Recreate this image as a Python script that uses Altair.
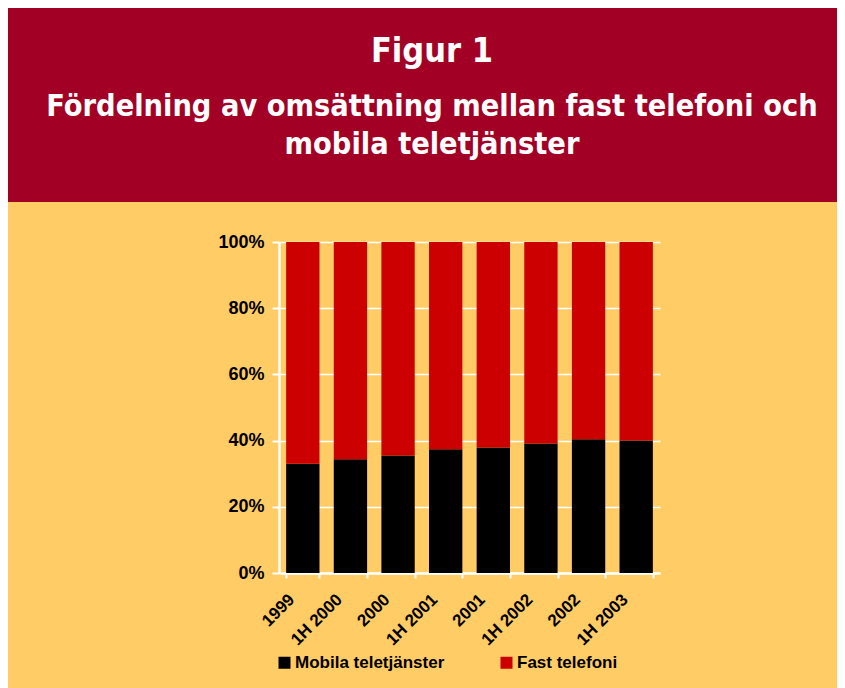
import altair as alt
import pandas as pd

periods = ["1999", "1H 2000", "2000", "1H 2001", "2001", "1H 2002", "2002", "1H 2003"]
mobile = [33.0, 34.4, 35.5, 37.4, 37.9, 39.1, 40.4, 40.0]
fixed = [round(100 - m, 1) for m in mobile]
series = ["Mobila teletjänster", "Fast telefoni"]
colors = ["#000000", "#CC0000"]
y_ticks = [0, 20, 40, 60, 80, 100]
heading = ["Figur 1"]
subheading = ["Fördelning av omsättning mellan fast telefoni och", "mobila teletjänster"]

rows = []
for i, p in enumerate(periods):
    rows.append({"period": p, "series": series[0], "value": mobile[i], "rank": 0})
    rows.append({"period": p, "series": series[1], "value": fixed[i], "rank": 1})
df = pd.DataFrame(rows)

W, H = 381, 331
PL, PT = 271, 234
PR = 829 - PL - W
PB = 680 - PT - H
LABEL_FONT = "Liberation Sans"
TITLE_FONT = "DejaVu Sans Condensed"
CX = 432 - 279  # centre of banner text in view coordinates

banner = alt.Chart(pd.DataFrame({"k": [0]})).mark_rect(color="#A30026").encode(
    x=alt.value(-PL), x2=alt.value(W + PR), y=alt.value(-PT), y2=alt.value(-40)
)

def text_line(txt, size, ybase):
    return alt.Chart(pd.DataFrame({"t": [txt]})).mark_text(
        font=TITLE_FONT, fontSize=size, fontWeight="bold", color="#FFFFFF",
        align="center", baseline="alphabetic",
    ).encode(text="t:N", x=alt.value(CX), y=alt.value(ybase))

t1 = text_line(heading[0], 34, 62 - 242)
t2 = text_line(subheading[0], 30.4, 116 - 242)
t3 = text_line(subheading[1], 30.4, 154 - 242)

bars = alt.Chart(df).mark_bar().encode(
    x=alt.X(
        "period:N",
        sort=periods,
        scale=alt.Scale(paddingInner=0.3, paddingOuter=0.15),
        axis=alt.Axis(
            title=None, labelAngle=315, labelAlign="right", labelBaseline="top",
            labelFont=LABEL_FONT, labelFontSize=17, labelFontWeight="bold", labelColor="#000000",
            labelPadding=13, labelOffset=-17, domainColor="#FFFFFF", domainWidth=2.5,
            tickColor="#FFFFFF", tickWidth=2, tickSize=5, tickBand="extent", grid=False,
        ),
    ),
    y=alt.Y(
        "value:Q",
        stack="zero",
        scale=alt.Scale(domain=[0, 100], nice=False),
        axis=alt.Axis(
            title=None, values=y_ticks, labelExpr="datum.value + '%'",
            labelFont=LABEL_FONT, labelFontSize=18, labelFontWeight="bold", labelColor="#000000",
            labelPadding=8, domainColor="#FFFFFF", domainWidth=2.5, tickColor="#FFFFFF",
            tickWidth=2, tickSize=7, grid=True, gridColor="#FFFFFF", gridWidth=1.5,
        ),
    ),
    color=alt.Color(
        "series:N",
        scale=alt.Scale(domain=series, range=colors),
        legend=alt.Legend(
            title=None, orient="none", legendX=-3, legendY=412, direction="horizontal",
            symbolType="square", symbolSize=144, symbolStrokeWidth=0,
            labelFont=LABEL_FONT, labelFontSize=17, labelFontWeight="bold", labelColor="#000000",
            columnPadding=53, labelOffset=2,
        ),
    ),
    order=alt.Order("rank:Q"),
)

chart = alt.layer(banner, t1, t2, t3, bars).properties(
    width=W,
    height=H,
    padding={"left": PL, "top": PT, "right": PR, "bottom": PB},
    autosize=alt.AutoSizeParams(type="none"),
    background="#FFCC66",
).configure_view(strokeWidth=0)

chart.save("out.html", embed_options={"renderer": "svg", "actions": False})
